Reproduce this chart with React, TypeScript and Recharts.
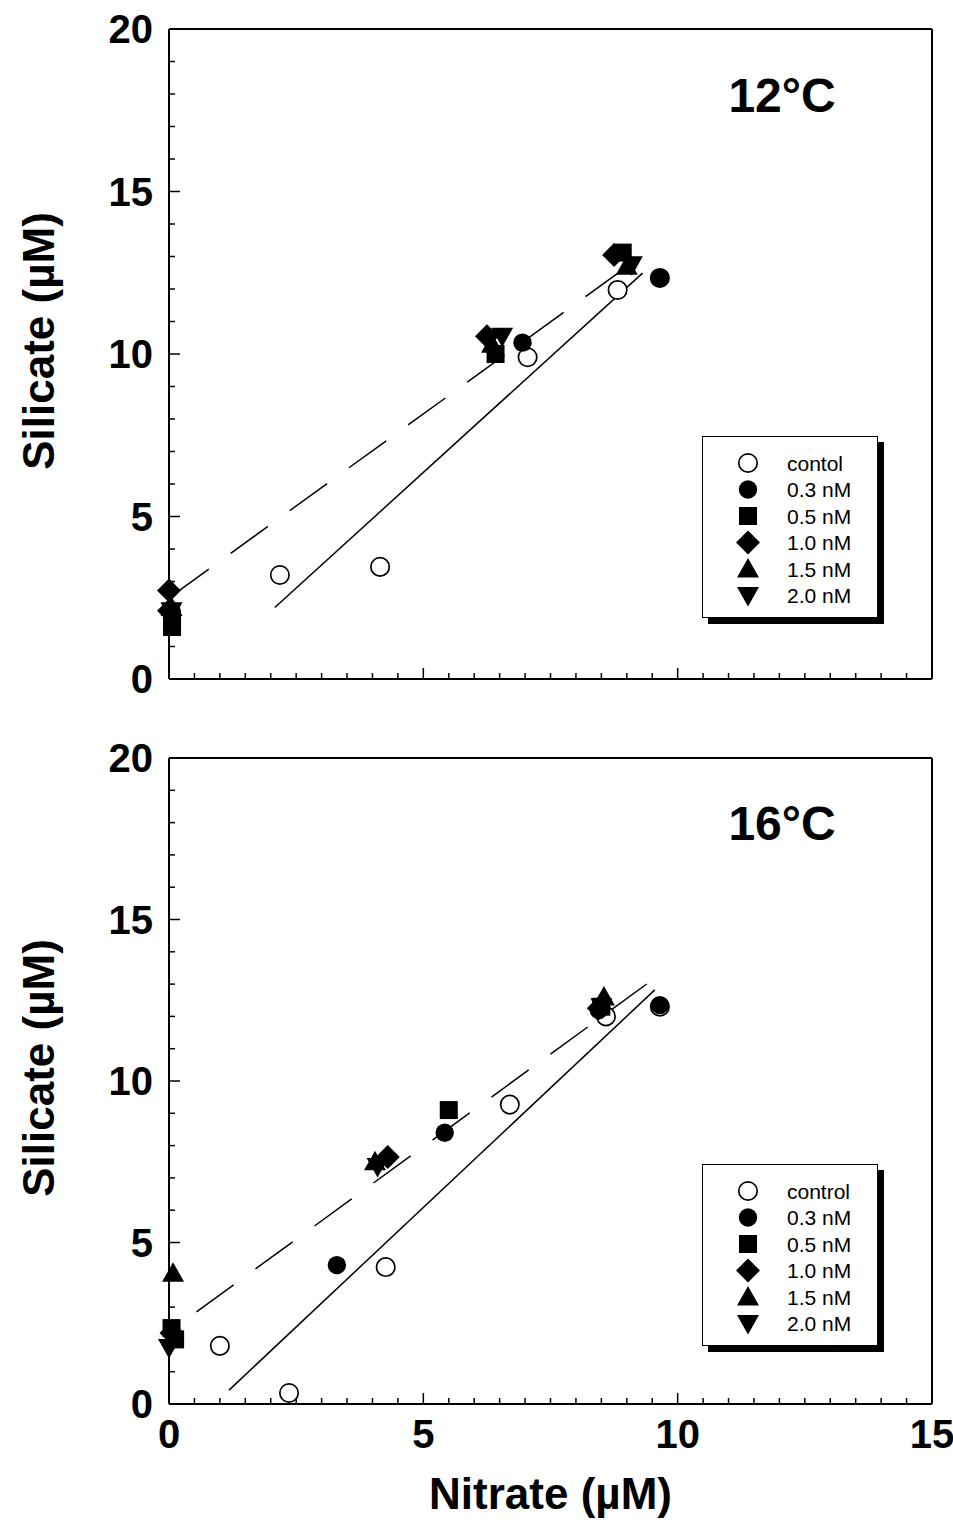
import React from "react";
import { ScatterChart, Scatter, XAxis, YAxis, ReferenceLine } from "recharts";

type Pt = { x: number; y: number };
type Kind = "openCircle" | "circle" | "square" | "diamond" | "up" | "down";

// axis ticks (minor every 0.5 on x, every 1 on y; labels on multiples of 5)
const xTicks = [0, 0.5, 1, 1.5, 2, 2.5, 3, 3.5, 4, 4.5, 5, 5.5, 6, 6.5, 7, 7.5, 8, 8.5, 9, 9.5, 10, 10.5, 11, 11.5, 12, 12.5, 13, 13.5, 14, 14.5, 15];
const yTicks = [0, 1, 2, 3, 4, 5, 6, 7, 8, 9, 10, 11, 12, 13, 14, 15, 16, 17, 18, 19, 20];

const legend12 = ["contol", "0.3 nM", "0.5 nM", "1.0 nM", "1.5 nM", "2.0 nM"];
const legend16 = ["control", "0.3 nM", "0.5 nM", "1.0 nM", "1.5 nM", "2.0 nM"];
const kinds: Kind[] = ["openCircle", "circle", "square", "diamond", "up", "down"];

// 12°C
const control12: Pt[] = [
  { x: 2.18, y: 3.2 }, { x: 4.15, y: 3.45 }, { x: 7.05, y: 9.9 }, { x: 8.82, y: 11.97 }, { x: 9.65, y: 12.34 },
];
const nm03_12: Pt[] = [{ x: 0.05, y: 2.1 }, { x: 6.95, y: 10.35 }, { x: 9.65, y: 12.34 }];
const nm05_12: Pt[] = [{ x: 0.06, y: 1.6 }, { x: 0.06, y: 1.85 }, { x: 6.42, y: 10.0 }, { x: 8.92, y: 13.12 }];
const nm10_12: Pt[] = [{ x: 0.0, y: 2.72 }, { x: 0.0, y: 2.1 }, { x: 6.25, y: 10.55 }, { x: 8.75, y: 13.05 }];
const nm15_12: Pt[] = [{ x: 0.05, y: 2.2 }, { x: 6.35, y: 10.3 }, { x: 9.0, y: 12.7 }];
const nm20_12: Pt[] = [{ x: 0.05, y: 2.1 }, { x: 6.55, y: 10.55 }, { x: 9.1, y: 12.75 }];
const solid12: Pt[] = [{ x: 2.08, y: 2.2 }, { x: 9.31, y: 12.49 }];
const dashed12: Pt[] = [{ x: 0.05, y: 2.55 }, { x: 9.19, y: 12.9 }];

// 16°C
const control16: Pt[] = [
  { x: 1.0, y: 1.8 }, { x: 2.36, y: 0.34 }, { x: 4.26, y: 4.24 }, { x: 6.7, y: 9.27 }, { x: 8.59, y: 12.0 }, { x: 9.65, y: 12.3 },
];
const nm03_16: Pt[] = [{ x: 0.1, y: 2.1 }, { x: 3.3, y: 4.3 }, { x: 5.42, y: 8.4 }, { x: 8.45, y: 12.2 }, { x: 9.65, y: 12.35 }];
const nm05_16: Pt[] = [{ x: 0.05, y: 2.35 }, { x: 0.12, y: 2.0 }, { x: 5.5, y: 9.1 }, { x: 8.5, y: 12.3 }];
const nm10_16: Pt[] = [{ x: 0.05, y: 2.2 }, { x: 4.3, y: 7.65 }, { x: 8.45, y: 12.25 }];
const nm15_16: Pt[] = [{ x: 0.08, y: 4.05 }, { x: 4.05, y: 7.5 }, { x: 8.55, y: 12.6 }];
const nm20_16: Pt[] = [{ x: 0.0, y: 1.75 }, { x: 4.1, y: 7.35 }, { x: 8.5, y: 12.3 }];
const solid16: Pt[] = [{ x: 1.18, y: 0.43 }, { x: 9.55, y: 12.82 }];
const dashed16: Pt[] = [{ x: 0.54, y: 2.85 }, { x: 9.45, y: 13.07 }];

const FONT = "'Liberation Sans', Arial, Helvetica, sans-serif";

const Marker = ({ kind, cx, cy }: { kind: Kind; cx: number; cy: number }) => {
  if (cx == null || cy == null) return null;
  switch (kind) {
    case "openCircle":
      return <circle cx={cx} cy={cy} r={9.2} fill="#fff" stroke="#000" strokeWidth={1.7} />;
    case "circle":
      return <circle cx={cx} cy={cy} r={9.2} fill="#000" />;
    case "square":
      return <rect x={cx - 9} y={cy - 9} width={18} height={18} fill="#000" />;
    case "diamond":
      return <polygon points={`${cx},${cy - 12} ${cx + 12},${cy} ${cx},${cy + 12} ${cx - 12},${cy}`} fill="#000" />;
    case "up":
      return <polygon points={`${cx},${cy - 11} ${cx + 11},${cy + 8.5} ${cx - 11},${cy + 8.5}`} fill="#000" />;
    default:
      return <polygon points={`${cx},${cy + 11} ${cx + 11},${cy - 8.5} ${cx - 11},${cy - 8.5}`} fill="#000" />;
  }
};

const AxisTick = (props: any) => {
  const { x, y, payload, side, labels } = props;
  const v = payload.value;
  const major = v % 5 === 0;
  const len = major ? 11 : 6;
  const txt = { fontFamily: FONT, fontWeight: 700, fontSize: 40, fill: "#000" };
  if (side === "bottom") {
    return (
      <g>
        <line x1={x} y1={y} x2={x} y2={y - len} stroke="#000" strokeWidth={1.5} />
        {labels && major && (
          <text x={x} y={y + 44} textAnchor="middle" style={txt}>{v}</text>
        )}
      </g>
    );
  }
  if (side === "top") return <line x1={x} y1={y} x2={x} y2={y + len} stroke="#000" strokeWidth={1.5} />;
  if (side === "right") return <line x1={x} y1={y} x2={x - len} y2={y} stroke="#000" strokeWidth={1.5} />;
  return (
    <g>
      <line x1={x} y1={y} x2={x + len} y2={y} stroke="#000" strokeWidth={1.5} />
      {major && (
        <text x={x - 16} y={y + 14} textAnchor="end" style={txt}>{v}</text>
      )}
    </g>
  );
};

const YTitle = (props: any) => {
  const { viewBox } = props;
  const cy = viewBox.y + viewBox.height / 2 - 13;
  return (
    <text
      x={54}
      y={cy}
      transform={`rotate(-90 54 ${cy})`}
      textAnchor="middle"
      style={{ fontFamily: FONT, fontWeight: 700, fontSize: 44, fill: "#000" }}
    >
      Silicate (µM)
    </text>
  );
};

const XTitle = (props: any) => {
  const { viewBox } = props;
  return (
    <text
      x={viewBox.x + viewBox.width / 2}
      y={viewBox.y + 105}
      textAnchor="middle"
      style={{ fontFamily: FONT, fontWeight: 700, fontSize: 44, fill: "#000" }}
    >
      Nitrate (µM)
    </text>
  );
};

const Legend = ({ labels, top }: { labels: string[]; top: number }) => (
  <div
    style={{
      position: "absolute",
      left: 702,
      top,
      width: 176,
      height: 182,
      boxSizing: "border-box",
      border: "1.5px solid #000",
      background: "#fff",
      boxShadow: "6px 6px 0 #000",
    }}
  >
    <svg width={173} height={179} style={{ display: "block" }}>
      {labels.map((lab, i) => (
        <g key={lab}>
          <Marker kind={kinds[i]} cx={45} cy={26 + i * 26.5} />
          <text x={84} y={26 + i * 26.5 + 7.5} style={{ fontFamily: FONT, fontSize: 21, fill: "#000" }}>
            {lab}
          </text>
        </g>
      ))}
    </svg>
  </div>
);

type PanelProps = {
  series: Pt[][];
  solid: Pt[];
  dashed: Pt[];
  height: number;
  margin: { top: number; right: number; bottom: number; left: number };
  xAxisHeight: number;
  showX: boolean;
};

const Panel = ({ series, solid, dashed, height, margin, xAxisHeight, showX }: PanelProps) => (
  <ScatterChart width={953} height={height} margin={margin}>
    <XAxis
      xAxisId="b"
      type="number"
      dataKey="x"
      domain={[0, 15]}
      ticks={xTicks}
      interval={0}
      height={xAxisHeight}
      tickSize={0}
      tickMargin={0}
      tickLine={false}
      axisLine={{ stroke: "#000", strokeWidth: 2 }}
      tick={<AxisTick side="bottom" labels={showX} />}
      label={showX ? <XTitle /> : undefined}
    />
    <XAxis
      xAxisId="t"
      orientation="top"
      type="number"
      domain={[0, 15]}
      ticks={xTicks}
      interval={0}
      height={1}
      tickSize={0}
      tickMargin={0}
      tickLine={false}
      axisLine={{ stroke: "#000", strokeWidth: 2 }}
      tick={<AxisTick side="top" />}
    />
    <YAxis
      yAxisId="l"
      type="number"
      dataKey="y"
      domain={[0, 20]}
      ticks={yTicks}
      interval={0}
      width={169}
      tickSize={0}
      tickMargin={0}
      tickLine={false}
      axisLine={{ stroke: "#000", strokeWidth: 2 }}
      tick={<AxisTick side="left" />}
      label={<YTitle />}
    />
    <YAxis
      yAxisId="r"
      orientation="right"
      type="number"
      domain={[0, 20]}
      ticks={yTicks}
      interval={0}
      width={1}
      tickSize={0}
      tickMargin={0}
      tickLine={false}
      axisLine={{ stroke: "#000", strokeWidth: 2 }}
      tick={<AxisTick side="right" />}
    />
    {series.map((data, i) => (
      <Scatter
        key={kinds[i]}
        xAxisId="b"
        yAxisId="l"
        data={data}
        isAnimationActive={false}
        shape={(p: any) => <Marker kind={kinds[i]} cx={p.cx} cy={p.cy} />}
      />
    ))}
    <ReferenceLine xAxisId="b" yAxisId="l" segment={solid} stroke="#000" strokeWidth={1.5} />
    <ReferenceLine xAxisId="b" yAxisId="l" segment={dashed} stroke="#000" strokeWidth={1.5} strokeDasharray="46 27" />
  </ScatterChart>
);

const PanelTitle = ({ text, top }: { text: string; top: number }) => (
  <div
    style={{
      position: "absolute",
      left: 682,
      width: 200,
      top,
      textAlign: "center",
      fontFamily: FONT,
      fontWeight: 700,
      fontSize: 48,
      lineHeight: "48px",
    }}
  >
    {text}
  </div>
);

export default function App() {
  return (
    <div style={{ position: "absolute", left: 0, top: 0, width: 953, height: 1522, background: "#fff" }}>
      <Panel
        series={[control12, nm03_12, nm05_12, nm10_12, nm15_12, nm20_12]}
        solid={solid12}
        dashed={dashed12}
        height={720}
        margin={{ top: 28, right: 20, bottom: 40, left: 0 }}
        xAxisHeight={1}
        showX={false}
      />
      <Panel
        series={[control16, nm03_16, nm05_16, nm10_16, nm15_16, nm20_16]}
        solid={solid16}
        dashed={dashed16}
        height={802}
        margin={{ top: 37, right: 20, bottom: 0, left: 0 }}
        xAxisHeight={118}
        showX={true}
      />
      <PanelTitle text="12°C" top={72} />
      <PanelTitle text="16°C" top={800} />
      <Legend labels={legend12} top={436} />
      <Legend labels={legend16} top={1164} />
    </div>
  );
}
